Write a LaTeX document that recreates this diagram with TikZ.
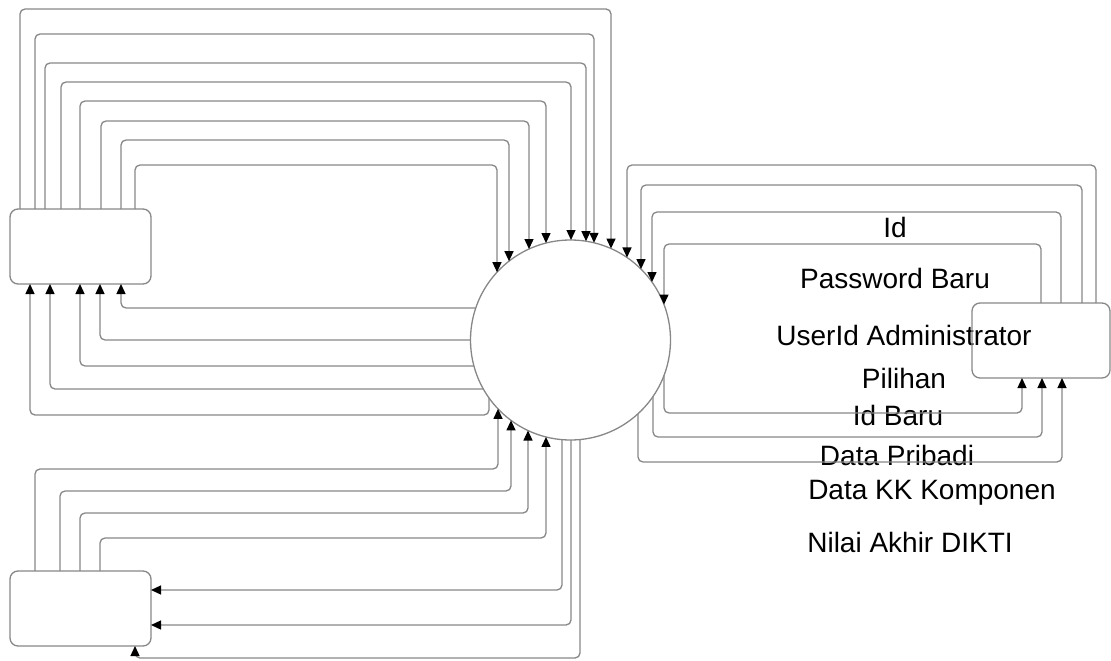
\documentclass[tikz,border=0pt]{standalone}
\usepackage{fontspec}
\setmainfont{Liberation Sans}
\usetikzlibrary{arrows.meta}
\definecolor{lc}{RGB}{135,135,135}
\begin{document}
\begin{tikzpicture}[x=1pt,y=-1pt,
  flow/.style={draw=lc, line width=1.3pt, rounded corners=5pt, -{Triangle[length=10pt,width=9pt,color=black]}},
  ent/.style={draw=lc, line width=1.3pt, rounded corners=8pt, inner sep=0pt, outer sep=0pt, minimum height=75pt},
  proc/.style={draw=lc, line width=1.3pt, circle, minimum size=200pt, inner sep=0pt, outer sep=0pt},
  lbl/.style={font=\fontsize{28}{30}\selectfont, inner sep=0pt}]
\useasboundingbox (0,0) rectangle (1111,661);
% labels
\node[lbl] (l1) at (895,227) {Id};
\node[lbl] (l2) at (895,278) {Password Baru};
\node[lbl] (l3) at (904,335) {UserId Administrator};
\node[lbl] (l4) at (904,378) {Pilihan};
\node[lbl] (l5) at (898,415) {Id Baru};
\node[lbl] (l6) at (897,455) {Data Pribadi};
\node[lbl] (l7) at (932,493) {Data KK Komponen};
\node[lbl] (l8) at (910,542) {Nilai Akhir DIKTI};
% nodes
\node[ent, minimum width=141pt] (A) at (80.5,246.5) {};
\node[ent, minimum width=141pt] (B) at (80.5,608.5) {};
\node[ent, minimum width=138pt] (C) at (1041,340.5) {};
\node[proc] (c) at (570.5,340) {};
% A top -> circle top
\foreach \xs/\yh/\xe in {20/9/611, 35/34/594, 45/63/586, 61/82/571, 80/101/546, 101/121/529, 121/140/509, 135/165/497}{
  \pgfmathsetmacro\dy{sqrt(10000-(\xe-570.5)*(\xe-570.5))}
  \draw[flow] ([xshift={(\xs-10)*1pt}]A.north west) |- (\xe,\yh) -- ([xshift={(\xe-570.5)*1pt}, yshift={\dy*1pt}]c.center);
}
% circle left -> A bottom
\foreach \yh/\xe in {308/121, 340/100, 366/80, 389/50}{
  \pgfmathsetmacro\dx{sqrt(10000-(\yh-340)*(\yh-340))}
  \draw[flow] ([xshift={-\dx*1pt}, yshift={(340-\yh)*1pt}]c.center) -| ([xshift={(\xe-10)*1pt}]A.south west);
}
\pgfmathsetmacro\dy{sqrt(10000-81.5*81.5)}
\draw[flow] ([xshift=-81.5pt, yshift={-\dy*1pt}]c.center) |- (30,415) -- ([xshift=20pt]A.south west);
% B top -> circle bottom
\foreach \xs/\yh/\xe in {35/469/498, 60/491/511, 80/513/528, 100/538/546}{
  \pgfmathsetmacro\dy{sqrt(10000-(\xe-570.5)*(\xe-570.5))}
  \draw[flow] ([xshift={(\xs-10)*1pt}]B.north west) |- (\xe,\yh) -- ([xshift={(\xe-570.5)*1pt}, yshift={-\dy*1pt}]c.center);
}
% circle bottom -> B
\foreach \xs/\yh in {562/590, 571/625}{
  \pgfmathsetmacro\dy{sqrt(10000-(\xs-570.5)*(\xs-570.5))}
  \draw[flow] ([xshift={(\xs-570.5)*1pt}, yshift={-\dy*1pt}]c.center) |- ([yshift={(571-\yh)*1pt}]B.north east);
}
\pgfmathsetmacro\dy{sqrt(10000-9.5*9.5)}
\draw[flow] ([xshift=9.5pt, yshift={-\dy*1pt}]c.center) |- (135,658) -- ([xshift=125pt]B.south west);
% C top -> circle top right
\foreach \xs/\yh/\xe in {1096/165/627, 1082/185/641, 1061/212/652, 1041/244/664}{
  \pgfmathsetmacro\dy{sqrt(10000-(\xe-570.5)*(\xe-570.5))}
  \draw[flow] ([xshift={(\xs-972)*1pt}]C.north west) |- (\xe,\yh) -- ([xshift={(\xe-570.5)*1pt}, yshift={\dy*1pt}]c.center);
}
% circle bottom right -> C bottom
\foreach \xs/\yh/\xe in {664/413/1022, 653/437/1042, 638/462/1062}{
  \pgfmathsetmacro\dy{sqrt(10000-(\xs-570.5)*(\xs-570.5))}
  \draw[flow] ([xshift={(\xs-570.5)*1pt}, yshift={-\dy*1pt}]c.center) |- (\xe,\yh) -- ([xshift={(\xe-972)*1pt}]C.south west);
}
\end{tikzpicture}
\end{document}
